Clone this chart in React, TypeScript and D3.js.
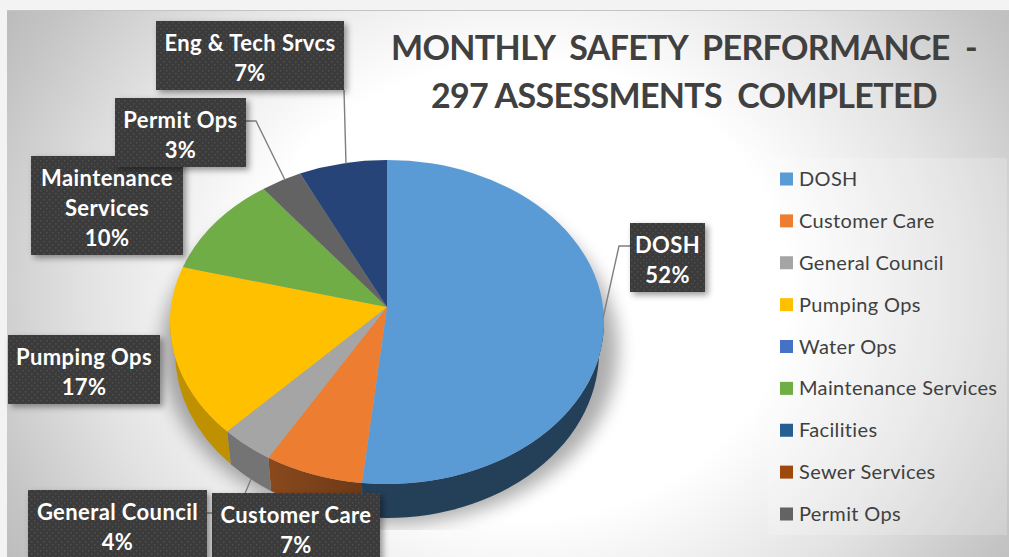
import React from "react";
import * as d3 from "d3";

const W = 1009, H = 557;
const titleLines = ["MONTHLY  SAFETY  PERFORMANCE  -", "297 ASSESSMENTS  COMPLETED"];
const sliceNames = ["DOSH", "Customer Care", "General Council", "Pumping Ops", "Maintenance Services", "Permit Ops", "Eng & Tech Srvcs"];
const sliceValues = [52.1, 7.4, 4.0, 17.4, 9.9, 3.1, 6.6];
const sliceColors = ["#5b9bd5", "#ed7d31", "#a5a5a5", "#ffc000", "#70ad47", "#636363", "#264478"];
const wallColors = ["#243f58", "#7f431c", "#747474", "#bf9000", "#4c7a30", "#444444", "#1a3055"];
const legendNames = ["DOSH", "Customer Care", "General Council", "Pumping Ops", "Water Ops", "Maintenance Services", "Facilities", "Sewer Services", "Permit Ops"];
const legendColors = ["#5b9bd5", "#ed7d31", "#a5a5a5", "#ffc000", "#4472c4", "#70ad47", "#255e91", "#9e480e", "#636363"];
const boxes = [
  { name: "DOSH", x: 630, y: 223, w: 75, h: 69, lines: ["DOSH"], leader: [[630, 246], [619, 246], [603, 318]] },
  { name: "Customer Care", x: 212, y: 493, w: 168, h: 72, lines: ["Customer Care"], leader: [] },
  { name: "General Council", x: 28, y: 490, w: 179, h: 72, lines: ["General Council"], leader: [[207, 513], [237, 513], [251, 479]] },
  { name: "Pumping Ops", x: 8, y: 335, w: 152, h: 69, lines: ["Pumping Ops"], leader: [] },
  { name: "Maintenance Services", x: 31, y: 156, w: 152, h: 99, lines: ["Maintenance", "Services"], leader: [] },
  { name: "Permit Ops", x: 115, y: 98, w: 131, h: 69, lines: ["Permit Ops"], leader: [[246, 121], [256, 121], [285, 180]] },
  { name: "Eng & Tech Srvcs", x: 156, y: 21, w: 188, h: 69, lines: ["Eng & Tech Srvcs"], leader: [[344, 90], [346, 164]] },
];

const FONT = "Lato, 'Open Sans', sans-serif";
const cx = 387, topCy = 322, rx = 217, ry = 162, apexY = 307;
const botCy = 352, botRx = 212, botRy = 166;

const sx = d3.scaleLinear().domain([-1, 1]).range([cx - rx, cx + rx]);
const sy = d3.scaleLinear().domain([-1, 1]).range([topCy - ry, topCy + ry]);
const bx = d3.scaleLinear().domain([-1, 1]).range([cx - botRx, cx + botRx]);
const by = d3.scaleLinear().domain([-1, 1]).range([botCy - botRy, botCy + botRy]);

const arcs = d3.pie<number>().sort(null)(sliceValues);

const top = (t: number) => [sx(Math.sin(t)), sy(-Math.cos(t))];
const bot = (t: number) => [bx(Math.sin(t)), by(-Math.cos(t))];

function topPath(a0: number, a1: number) {
  const [x0, y0] = top(a0), [x1, y1] = top(a1);
  const large = a1 - a0 > Math.PI ? 1 : 0;
  return `M${cx},${apexY}L${x0},${y0}A${rx},${ry} 0 ${large} 1 ${x1},${y1}Z`;
}
function wallPath(a0: number, a1: number) {
  const lo = Math.max(a0, Math.PI / 2), hi = Math.min(a1, (3 * Math.PI) / 2);
  if (hi <= lo) return null;
  const [x0, y0] = top(lo), [x1, y1] = top(hi);
  const [bx1, by1] = bot(hi), [bx0, by0] = bot(lo);
  return `M${x0},${y0}A${rx},${ry} 0 0 1 ${x1},${y1}L${bx1},${by1}A${botRx},${botRy} 0 0 0 ${bx0},${by0}Z`;
}

const pct = d3.format(".0%");
const total = d3.sum(sliceValues);
const legendY = d3.scalePoint<string>().domain(legendNames).range([179, 514]);

export default function App() {
  return (
    <svg width={W} height={H} style={{ position: "absolute", left: 0, top: 0, display: "block" }} fontFamily={FONT}>
      <defs>
        <radialGradient id="bg" gradientUnits="userSpaceOnUse" cx={520} cy={290} r={640} gradientTransform="translate(520 290) scale(1 0.85) translate(-520 -290)">
          <stop offset="0.42" stopColor="#ffffff" />
          <stop offset="0.68" stopColor="#e2e2e2" />
          <stop offset="0.88" stopColor="#c4c4c4" />
          <stop offset="1" stopColor="#b6b6b6" />
        </radialGradient>
        <pattern id="dots" width="6" height="6" patternUnits="userSpaceOnUse">
          <rect width="6" height="6" fill="#3b3b3b" />
          <rect x="1" y="1" width="1.4" height="1.4" fill="#505050" />
          <rect x="4" y="4" width="1.4" height="1.4" fill="#505050" />
        </pattern>
        <filter id="boxShadow" x="-20%" y="-20%" width="140%" height="140%">
          <feDropShadow dx="3" dy="3" stdDeviation="3" floodColor="#000" floodOpacity="0.4" />
        </filter>
        <filter id="pieShadow" x="-20%" y="-20%" width="140%" height="140%">
          <feGaussianBlur stdDeviation="9" />
        </filter>
        <clipPath id="shadowClip">
          <rect x={0} y={0} width={W} height={530} />
        </clipPath>
        <linearGradient id="wallOrange" x1="0" x2="1" y1="0" y2="0">
          <stop offset="0" stopColor="#8a491d" />
          <stop offset="1" stopColor="#6d3a17" />
        </linearGradient>
      </defs>
      <rect width={W} height={H} fill="#f3f3f3" />
      <rect x={7} y={10} width={W - 7} height={H - 10} fill="url(#bg)" />
      <line x1={7} y1={10.5} x2={W} y2={10.5} stroke="#c4c4c4" strokeWidth={1} />

      <g clipPath="url(#shadowClip)">
        <ellipse cx={cx + 3} cy={botCy - 2} rx={botRx + 16} ry={botRy + 8} fill="#000" opacity={0.32} filter="url(#pieShadow)" />
      </g>

      {arcs.map((a, i) => {
        const d = wallPath(a.startAngle, a.endAngle);
        return d ? <path key={i} d={d} fill={i === 1 ? "url(#wallOrange)" : wallColors[i]} /> : null;
      })}
      {arcs.map((a, i) => (
        <path key={i} d={topPath(a.startAngle, a.endAngle)} fill={sliceColors[i]} />
      ))}

      {boxes.filter((b) => b.leader.length).map((b) => (
        <path key={b.name} d={d3.line()(b.leader as [number, number][]) ?? ""} fill="none" stroke="#7f7f7f" strokeWidth={1.4} />
      ))}

      {boxes.map((b) => {
        const idx = sliceNames.indexOf(b.name);
        const all = [...b.lines, pct(sliceValues[idx] / total)];
        const midX = b.x + b.w / 2;
        return (
          <g key={b.name}>
            <rect x={b.x} y={b.y} width={b.w} height={b.h} fill="url(#dots)" filter="url(#boxShadow)" />
            {all.map((t, j) => (
              <text key={j} x={midX} y={b.y + 29.5 + j * 30} textAnchor="middle" fontSize={22} letterSpacing={0.4} fontWeight={700} fill="#ffffff">{t}</text>
            ))}
          </g>
        );
      })}

      {titleLines.map((t, i) => (
        <text key={i} x={684} y={59.5 + i * 48.5} textAnchor="middle" fontSize={34} letterSpacing={-0.65} fontWeight={700} fill="#404040" style={{ whiteSpace: "pre" }}>{t}</text>
      ))}

      <rect x={768} y={158} width={239} height={377} fill="#ffffff" opacity={0.2} />
      {legendNames.map((n, i) => (
        <g key={n}>
          <rect x={780} y={(legendY(n) as number) - 6.5} width={13} height={13} fill={legendColors[i]} />
          <text x={799} y={(legendY(n) as number) + 7} fontSize={20} letterSpacing={0.35} fill="#404040">{n}</text>
        </g>
      ))}
    </svg>
  );
}
